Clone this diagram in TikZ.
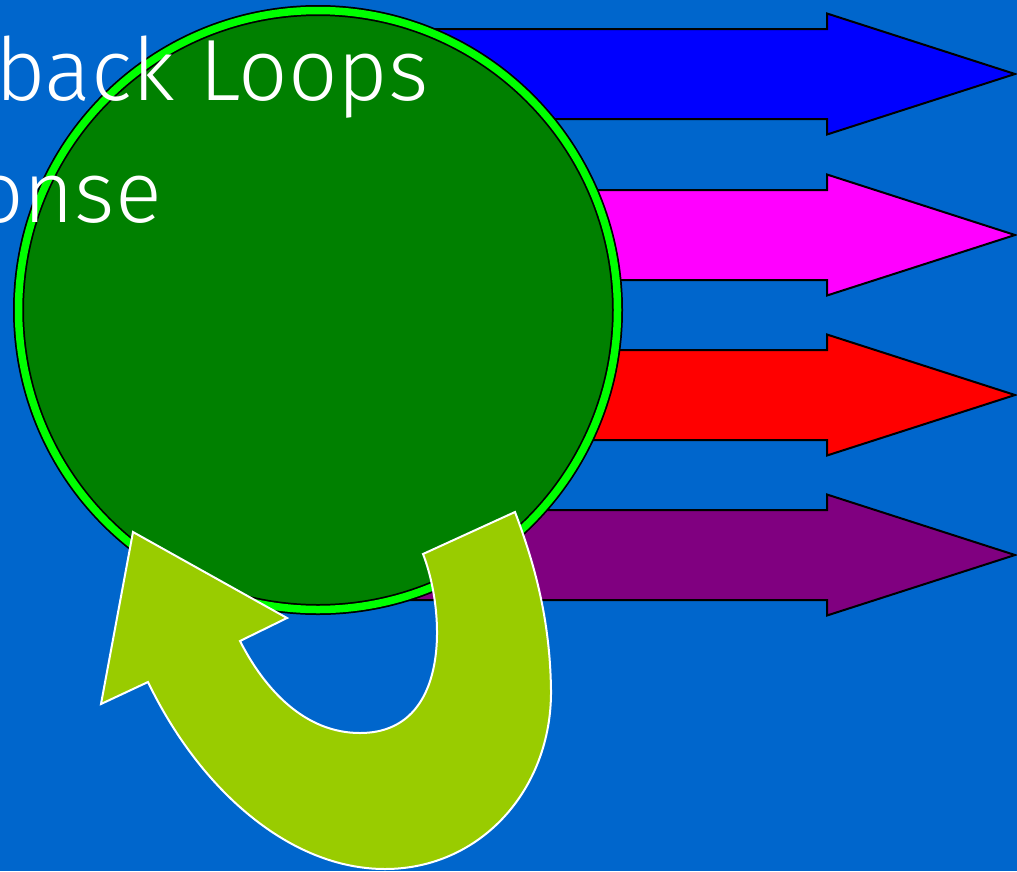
\documentclass[tikz,border=0pt]{standalone}
\usepackage{fontspec}
\IfFontExistsTF{Fira Sans Light}{\setmainfont{Fira Sans Light}}{\setmainfont{Carlito}}
\definecolor{slideblue}{HTML}{0066CC}
\definecolor{discgreen}{HTML}{008000}
\definecolor{ringgreen}{HTML}{00FF00}
\definecolor{loopgreen}{HTML}{99CC00}
\definecolor{plum}{HTML}{800080}
\definecolor{pink}{HTML}{FF00FF}
\definecolor{pureblue}{HTML}{0000FF}
\definecolor{purered}{HTML}{FF0000}
\tikzset{
  pics/blockarrow/.style={code={
    \filldraw[fill=#1, draw=black, line width=2pt, line join=miter]
      (0,-45) -- (427,-45) -- (427,-60.5) -- (615,0) -- (427,60.5)
      -- (427,45) -- (0,45) -- cycle;
  }},
  slidetext/.style={text=white, inner sep=0pt,
    font=\fontsize{87}{87}\selectfont},
}
\begin{document}
\begin{tikzpicture}[x=1pt,y=-1pt]
  % page and background
  \useasboundingbox (0,0) rectangle (1017,871);
  \clip (0,0) rectangle (1017,871);
  \fill[slideblue] (0,0) rectangle (1017,871);

  % four outgoing block arrows
  \pic (outblue)   at (400,74)  {blockarrow=pureblue};
  \pic (outpink)   at (400,235) {blockarrow=pink};
  \pic (outred)    at (400,395) {blockarrow=purered};
  \pic (outpurple) at (400,555) {blockarrow=plum};

  % the disc with its bright green rim
  \coordinate (disc) at (318,310);
  \fill[discgreen] (disc) circle[radius=300];
  \draw[black, line width=11pt] (disc) circle[radius=299.5];
  \draw[ringgreen, line width=7.5pt] (disc) circle[radius=299.5];

  % title lines
  \node[slidetext, anchor=base west] (title) at (-5,100) {back Loops};
  \node[slidetext, anchor=base east] (subtitle) at (162,222) {onse};

  % curved feedback arrow
  \filldraw[fill=loopgreen, draw=white, line width=2pt, line join=miter]
    (515,512) -- (423,554)
    .. controls (445,610) and (452,733) .. (360,733)
    .. controls (305,733) and (265,690) .. (240,641)
    -- (287,618) -- (133,532) -- (101,704) -- (148,682)
    .. controls (200,790) and (290,869) .. (385,869)
    .. controls (480,869) and (552,790) .. (551,690)
    .. controls (550,620) and (535,565) .. (515,512)
    -- cycle;
\end{tikzpicture}
\end{document}
